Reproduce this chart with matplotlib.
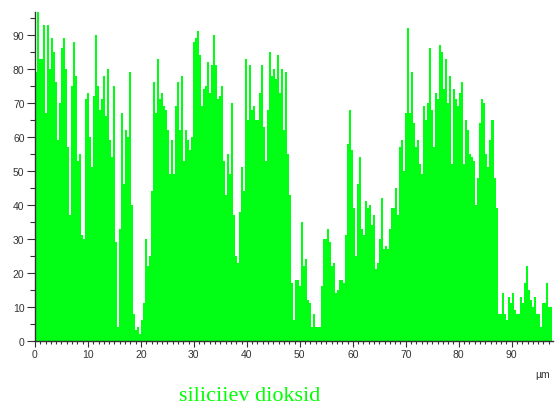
import matplotlib

# Рисуем без экрана.
matplotlib.use("Agg")

import matplotlib.pyplot as plt
import numpy as np
from matplotlib.ticker import MultipleLocator

# Высоты столбиков профиля, слева направо (шаг ~0.378 мкм).
heights = [
    79, 97, 83, 83, 93, 67, 93, 80, 89, 85, 76, 59, 70, 86, 89, 80, 57, 37, 75, 88,
    78, 53, 55, 31, 30, 71, 73, 60, 51, 72, 90, 75, 68, 71, 78, 66, 80, 59,
    54, 75, 29, 4, 33, 67, 46, 62, 60, 79, 40, 8, 3, 4, 2, 6, 11, 30, 22, 25,
    44, 76, 67, 83, 71, 73, 69, 68, 62, 49, 59, 49, 69, 76, 62, 78,
    53, 62, 59, 56, 60, 88, 89, 91, 84, 69, 74, 75, 82, 73, 81, 90, 81, 71, 72, 75,
    53, 43, 55, 49, 70, 37, 25, 23, 38, 51, 44, 83, 65, 81, 68, 69, 65,
    65, 73, 81, 63, 53, 68, 85, 78, 80, 77, 84, 73, 80, 62, 79, 55, 43, 17, 6, 18,
    18, 16, 35, 22, 24, 12, 11, 4, 8, 4, 4, 4, 16, 30, 30, 33, 29,
    22, 23, 14, 15, 18, 18, 17, 31, 58, 68, 56, 39, 25, 46, 54, 33, 31, 41, 39, 40,
    34, 37, 21, 23, 30, 42, 27, 28, 27, 33, 39, 39, 45, 37, 57, 59, 50,
    67, 92, 67, 79, 64, 57, 59, 52, 49, 69, 65, 70, 86, 68, 57, 73, 71, 87, 85, 74,
    83, 70, 78, 52, 74, 71, 69, 73, 76, 52, 65, 62, 55, 54, 53, 40,
    48, 64, 71, 70, 55, 51, 59, 65, 48, 39, 8, 8, 14, 8, 6, 13, 11, 14, 9, 8,
    8, 13, 11, 17, 22, 15, 12, 10, 13, 8, 8, 4, 11, 11, 17, 10, 10,
]

# Ширина одного столбика в мкм.
bin_width_um = 0.378

# Подписи.
title_text = "siliciiev dioksid"
unit_text = "µm"

bar_color = "#00ff14"
axis_color = "#333333"

fig = plt.figure(figsize=(5.55, 4.10), dpi=100)
ax = fig.add_axes([0.063, 0.1666, 0.9325, 0.8017])

# Левые края столбиков.
lefts = np.arange(len(heights)) * bin_width_um

ax.bar(lefts, heights, width=bin_width_um, align="edge", color=bar_color, linewidth=0)

ax.set_xlim(0, 97.7)
ax.set_ylim(0, 96.7)

# Оставляем только левую и нижнюю оси.
ax.spines["top"].set_visible(False)
ax.spines["right"].set_visible(False)
for side in ("left", "bottom"):
    ax.spines[side].set_color(axis_color)
    ax.spines[side].set_linewidth(1.0)

ax.xaxis.set_major_locator(MultipleLocator(10))
ax.xaxis.set_minor_locator(MultipleLocator(1))
ax.yaxis.set_major_locator(MultipleLocator(10))
ax.yaxis.set_minor_locator(MultipleLocator(5))

ax.tick_params(axis="both", which="both", direction="out", colors=axis_color,
               labelsize=7.5, width=0.8, pad=2)
ax.tick_params(axis="x", which="major", length=4)
ax.tick_params(axis="x", which="minor", length=2)
ax.tick_params(axis="y", which="major", length=5.5)
ax.tick_params(axis="y", which="minor", length=3.5)

for label in ax.get_xticklabels() + ax.get_yticklabels():
    label.set_family("Liberation Sans")

# Единицы под правым краем оси X.
fig.text(543 / 555, 1 - 375 / 410, unit_text, ha="center", va="center",
         fontsize=7.5, family="Liberation Sans", color=axis_color)

# Подпись образца снизу.
fig.text(250 / 555, 1 - 397 / 410, title_text, ha="center", va="center",
         fontsize=16, family="Liberation Serif", color="#00ff00")

fig.savefig("out.png", dpi=100)
